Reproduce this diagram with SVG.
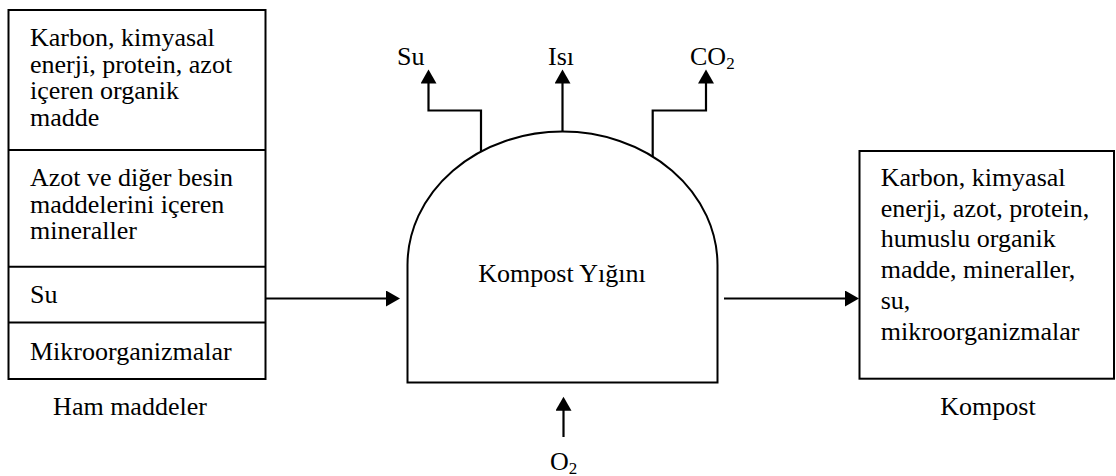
<svg xmlns="http://www.w3.org/2000/svg" width="1116" height="476" viewBox="0 0 1116 476">
<style>
text{font-family:"Liberation Serif","Times New Roman",serif;font-size:26px;fill:#000}
.box{fill:#fff;stroke:#000;stroke-width:2}
.div{stroke:#000;stroke-width:2;fill:none}
.con{stroke:#000;stroke-width:2.2;fill:none}
.sub{font-size:17px}
</style>
<defs>
<marker id="ah" markerUnits="userSpaceOnUse" markerWidth="16" markerHeight="17" refX="2" refY="8" orient="auto">
<path d="M0,0 L14,8 L0,16 Z" fill="#000"/>
</marker>
</defs>
<rect width="1116" height="476" fill="#fff"/>

<g id="hammaddeler">
<rect class="box" x="8.5" y="10" width="257" height="369"/>
<line class="div" x1="8.5" y1="150" x2="265.5" y2="150"/>
<line class="div" x1="8.5" y1="266.7" x2="265.5" y2="266.7"/>
<line class="div" x1="8.5" y1="322.5" x2="265.5" y2="322.5"/>
<text x="30" y="45.7">Karbon, kimyasal</text>
<text x="30" y="72.5">enerji, protein, azot</text>
<text x="30" y="98.9">içeren organik</text>
<text x="30" y="125.5">madde</text>
<text x="30" y="185.7">Azot ve diğer besin</text>
<text x="30" y="212.7">maddelerini içeren</text>
<text x="30" y="239.3">mineraller</text>
<text x="30" y="303.3">Su</text>
<text x="30" y="360">Mikroorganizmalar</text>
<text x="130" y="415" text-anchor="middle">Ham maddeler</text>
</g>

<g id="yigin">
<path class="div" d="M407.5,382.5 V265 A154.5,133 0 0 1 717.5,265 V382.5 Z"/>
<text x="562" y="281.7" text-anchor="middle">Kompost Yığını</text>
</g>

<g id="kompost">
<rect class="box" x="859.5" y="151" width="254.5" height="227.7"/>
<text x="880.7" y="185.7">Karbon, kimyasal</text>
<text x="880.7" y="216.5">enerji, azot, protein,</text>
<text x="880.7" y="247.3">humuslu organik</text>
<text x="880.7" y="278.2">madde, mineraller,</text>
<text x="880.7" y="308.7">su,</text>
<text x="880.7" y="339.8">mikroorganizmalar</text>
<text x="988" y="415" text-anchor="middle">Kompost</text>
</g>

<g id="etiketler">
<text x="397" y="65">Su</text>
<text x="548" y="65">Isı</text>
<text x="690" y="65">CO<tspan class="sub" dy="4">2</tspan></text>
<text x="550" y="470">O<tspan class="sub" dy="4">2</tspan></text>
</g>

<g id="baglantilar">
<path class="con" d="M265.5,298.5 H388" marker-end="url(#ah)"/>
<path class="con" d="M724,298.5 H847" marker-end="url(#ah)"/>
<path class="con" d="M481,151 V110.5 H428.5 V81.5" marker-end="url(#ah)"/>
<path class="con" d="M562.5,132 V81.5" marker-end="url(#ah)"/>
<path class="con" d="M652.7,157 V110.5 H706 V81.5" marker-end="url(#ah)"/>
<path class="con" d="M563.5,437 V408.7" marker-end="url(#ah)"/>
</g>
</svg>
